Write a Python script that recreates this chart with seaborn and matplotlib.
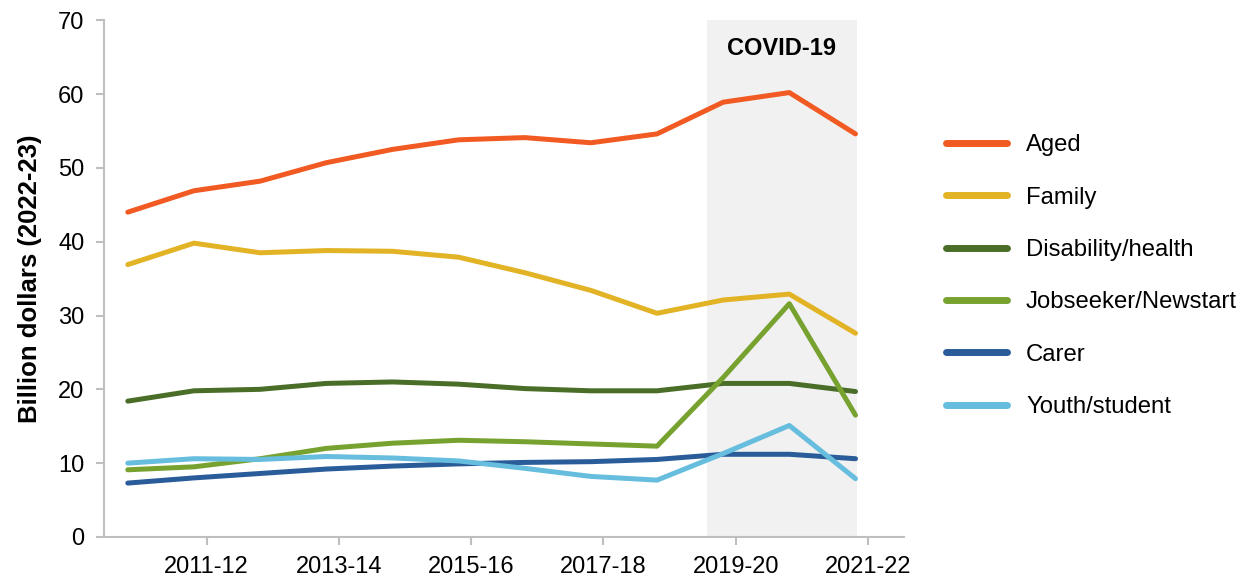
"""Welfare payments by type, real terms, 2010-11 to 2021-22."""
import matplotlib
matplotlib.use("Agg")
import matplotlib.pyplot as plt
import numpy as np
import pandas as pd
import seaborn as sns

YEARS = ["2010-11", "2011-12", "2012-13", "2013-14", "2014-15", "2015-16",
         "2016-17", "2017-18", "2018-19", "2019-20", "2020-21", "2021-22"]
TICK_YEARS = ["2011-12", "2013-14", "2015-16", "2017-18", "2019-20", "2021-22"]

AGED = [44.0, 46.9, 48.2, 50.7, 52.5, 53.8, 54.1, 53.4, 54.6, 58.9, 60.2, 54.6]
FAMILY = [36.9, 39.8, 38.5, 38.8, 38.7, 37.9, 35.8, 33.4, 30.3, 32.1, 32.9, 27.6]
DISABILITY = [18.4, 19.8, 20.0, 20.8, 21.0, 20.7, 20.1, 19.8, 19.8, 20.8, 20.8, 19.7]
JOBSEEKER = [9.1, 9.5, 10.6, 12.0, 12.7, 13.1, 12.9, 12.6, 12.3, 21.6, 31.6, 16.5]
CARER = [7.3, 8.0, 8.6, 9.2, 9.6, 9.9, 10.1, 10.2, 10.5, 11.2, 11.2, 10.6]
YOUTH = [10.0, 10.6, 10.5, 10.9, 10.7, 10.3, 9.3, 8.2, 7.7, 11.3, 15.1, 7.9]

SERIES = {
    "Aged": AGED,
    "Family": FAMILY,
    "Disability/health": DISABILITY,
    "Jobseeker/Newstart": JOBSEEKER,
    "Carer": CARER,
    "Youth/student": YOUTH,
}
COLORS = ["#F15A22", "#E2B325", "#4A6E28", "#78A22F", "#2A5C9A", "#66BDDD"]

rows = []
for name, vals in SERIES.items():
    for i, v in enumerate(vals):
        rows.append({"x": i, "year": YEARS[i], "payment": name, "value": v})
df = pd.DataFrame(rows)

sns.set_style("ticks")
plt.rcParams["font.family"] = ["Liberation Sans", "DejaVu Sans"]
plt.rcParams["text.color"] = "black"
plt.rcParams["xtick.labelcolor"] = "black"
plt.rcParams["ytick.labelcolor"] = "black"
plt.rcParams["axes.labelcolor"] = "black"

fig = plt.figure(figsize=(12.41, 5.78), dpi=100)
ax = fig.add_axes([0.0838, 0.071, 0.645, 0.894])

# COVID-19 shaded period
ax.axvspan(8.75, 11.02, color="#F1F1F1", lw=0, zorder=0)
ax.text(9.88, 66.2, "COVID-19", ha="center", va="center",
        fontsize=17, fontweight="bold")

sns.lineplot(data=df, x="x", y="value", hue="payment", palette=COLORS,
             linewidth=3.6, ax=ax, legend=True)

ax.set_xlim(-0.36, 11.74)
ax.set_ylim(0, 70)
ax.set_yticks(np.arange(0, 71, 10))
ax.set_xticks([YEARS.index(y) + 0.19 for y in TICK_YEARS])
ax.set_xticklabels(TICK_YEARS)
ax.set_xlabel("")
ax.set_ylabel("Billion dollars (2022-23)", fontsize=18.5, fontweight="bold",
              labelpad=12)
ax.tick_params(axis="both", labelsize=17, color="#BFBFBF", length=6,
               width=1.5, pad=8)
for side in ["left", "bottom"]:
    ax.spines[side].set_color("#BFBFBF")
    ax.spines[side].set_linewidth(1.5)
sns.despine(ax=ax)

handles, labels = ax.get_legend_handles_labels()
ax.get_legend().remove()
for h in handles:
    h.set_linewidth(5)
fig.legend(handles, labels, loc="center left", bbox_to_anchor=(0.745, 0.522),
           frameon=False, fontsize=17.2, handlelength=2.55, handletextpad=0.8,
           labelspacing=1.27)

fig.savefig("out.png", dpi=100)
